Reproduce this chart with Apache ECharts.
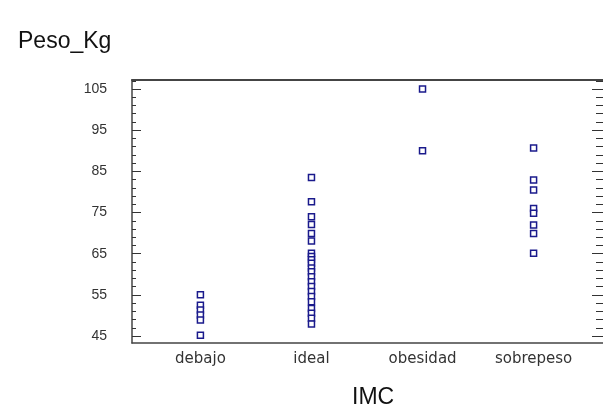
<!DOCTYPE html>
<html><head><meta charset="utf-8">
<script src="https://cdn.jsdelivr.net/npm/echarts@6/dist/echarts.min.js"></script>
<style>html,body{margin:0;padding:0;background:#fff}#c{width:603px;height:415px}</style>
</head><body><div id="c"></div>
<script>
const categories = ['debajo', 'ideal', 'obesidad', 'sobrepeso'];
const debajo = [55, 52.5, 51.3, 50.1, 48.9, 45.2];
const ideal = [83.5, 77.6, 74.0, 72.1, 69.9, 68.1, 65.1, 64.3, 63.5, 62.7, 61.5, 60.6, 59.4, 58.2, 57.0, 55.8, 54.6, 53.3, 51.7, 50.5, 49.3, 47.9];
const obesidad = [105, 90];
const sobrepeso = [90.7, 82.9, 80.5, 76.0, 74.8, 72.0, 69.9, 65.1];
const yTicks = [45, 55, 65, 75, 85, 95, 105];
const yMinorTicks = [47, 49, 51, 53, 57, 59, 61, 63, 67, 69, 71, 73, 77, 79, 81, 83, 87, 89, 91, 93, 97, 99, 101, 103, 107];

const groups = [debajo, ideal, obesidad, sobrepeso];
const points = [];
groups.forEach((g, i) => g.forEach(v => points.push([i + 1, v])));

const Y_MIN = 43.3, Y_MAX = 107.2;
const X_MIN = 0.384, X_MAX = 4.625;
const font = 'Liberation Sans, Arial, sans-serif';
const chart = echarts.init(document.getElementById('c'), null, {renderer: 'canvas'});
const hiddenY = (pos, ticks, len) => ({
  type: 'value', position: pos, min: Y_MIN, max: Y_MAX,
  axisLine: {show: false}, splitLine: {show: false},
  axisLabel: {show: false, customValues: ticks},
  axisTick: {show: true, inside: true, length: len, customValues: ticks, lineStyle: {color: '#333', width: 1}}
});
chart.setOption({
  animation: false,
  title: [
    {text: 'Peso_Kg', left: 13, top: 25, textStyle: {fontFamily: font, fontSize: 23, fontWeight: 'normal', color: '#111'}},
    {text: 'IMC', left: 347, top: 381, textStyle: {fontFamily: font, fontSize: 23, fontWeight: 'normal', color: '#111'}}
  ],
  grid: {left: 132, top: 80, width: 475, height: 263},
  xAxis: [{
    type: 'value', min: X_MIN, max: X_MAX, position: 'bottom',
    axisLine: {show: true, lineStyle: {color: '#444', width: 1.5}},
    axisTick: {show: false},
    splitLine: {show: false},
    axisLabel: {
      customValues: [1, 2, 3, 4], margin: 9,
      formatter: v => categories[Math.round(v) - 1] || '',
      fontFamily: 'DejaVu Sans, sans-serif', fontSize: 15, color: '#333'
    }
  }, {
    type: 'value', min: X_MIN, max: X_MAX, position: 'top',
    axisLine: {show: true, lineStyle: {color: '#444', width: 2}},
    axisTick: {show: false}, splitLine: {show: false}, axisLabel: {show: false}
  }],
  yAxis: [
    {
      type: 'value', position: 'left', min: Y_MIN, max: Y_MAX,
      axisLine: {show: true, lineStyle: {color: '#444', width: 1.5}},
      splitLine: {show: false},
      axisTick: {show: true, inside: true, length: 9, customValues: yTicks, lineStyle: {color: '#333', width: 1}},
      axisLabel: {customValues: yTicks, margin: 25, fontFamily: font, fontSize: 14, color: '#333'}
    },
    hiddenY('left', yMinorTicks, 4),
    hiddenY('right', yTicks, 11),
    hiddenY('right', yMinorTicks, 7)
  ],
  series: [{
    type: 'scatter', data: points, symbol: 'rect', symbolSize: 6,
    itemStyle: {color: '#fff', borderColor: '#1a1a8c', borderWidth: 1.5, opacity: 1}
  }]
});
</script></body></html>
